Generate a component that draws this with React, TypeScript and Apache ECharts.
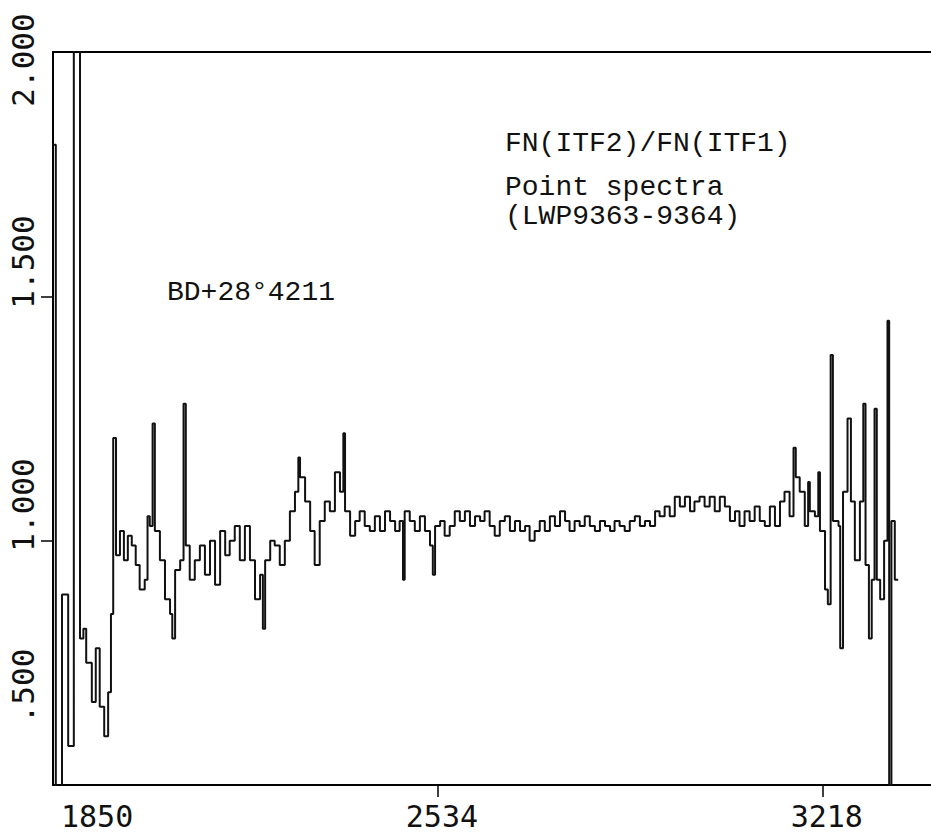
import React, { useEffect, useRef } from "react";
import * as echarts from "echarts";

// Bin start wavelengths (Angstrom)
const wavelengths = [
  1841, 1855, 1866, 1877, 1887, 1898, 1904, 1909, 1919, 1926, 1933, 1941, 1948, 1953, 1957,
  1962, 1969, 1976, 1983, 1990, 1997, 2004, 2013, 2018, 2022, 2027, 2031, 2040, 2049, 2058,
  2062, 2067, 2076, 2082, 2086, 2093, 2102, 2111, 2120, 2129, 2138, 2147, 2156, 2164, 2173,
  2182, 2191, 2200, 2209, 2218, 2223, 2227, 2236, 2244, 2253, 2262, 2271, 2280, 2286, 2289,
  2298, 2307, 2315, 2324, 2333, 2342, 2351, 2360, 2366, 2369, 2378, 2387, 2395, 2404, 2413,
  2422, 2431, 2440, 2449, 2458, 2466, 2472, 2475, 2484, 2493, 2502, 2511, 2520, 2525, 2529,
  2538, 2546, 2555, 2564, 2573, 2582, 2591, 2600, 2609, 2617, 2626, 2635, 2644, 2653, 2662,
  2671, 2680, 2689, 2697, 2706, 2715, 2724, 2733, 2742, 2751, 2760, 2768, 2777, 2786, 2795,
  2804, 2813, 2822, 2831, 2840, 2848, 2857, 2866, 2875, 2884, 2893, 2902, 2911, 2920, 2928,
  2937, 2946, 2955, 2964, 2973, 2982, 2990, 2999, 3008, 3017, 3026, 3035, 3044, 3053, 3062,
  3070, 3079, 3088, 3097, 3106, 3115, 3124, 3133, 3142, 3150, 3159, 3166, 3170, 3177, 3186,
  3192, 3195, 3204, 3210, 3213, 3222, 3227, 3232, 3236, 3246, 3249, 3254, 3262, 3268, 3275,
  3284, 3290, 3294, 3300, 3305, 3310, 3314, 3320, 3327, 3333, 3336, 3340, 3346, 3352,
];

// FN(ITF2)/FN(ITF1) ratio per bin
const ratios = [
  1.81, 0.45, 0.89, 0.58, 2.1, 0.8, 0.82, 0.75, 0.67, 0.78, 0.66, 0.6, 0.69, 0.85, 1.21,
  0.97, 1.02, 0.96, 1.01, 0.99, 0.95, 0.9, 0.92, 1.05, 1.03, 1.24, 1.02, 0.96, 0.88, 0.85,
  0.8, 0.94, 0.96, 1.28, 0.99, 0.92, 0.96, 0.99, 0.93, 1.0, 0.91, 1.02, 0.97, 1.0, 1.03,
  0.96, 1.03, 0.96, 0.88, 0.93, 0.82, 0.96, 1.0, 0.99, 0.95, 1.0, 1.06, 1.1, 1.17, 1.13,
  1.08, 1.02, 0.95, 1.04, 1.08, 1.06, 1.14, 1.1, 1.22, 1.06, 1.01, 1.04, 1.06, 1.03, 1.02,
  1.05, 1.02, 1.06, 1.04, 1.02, 1.04, 0.92, 1.06, 1.04, 1.02, 1.05, 1.02, 0.99, 0.93, 1.03,
  1.04, 1.01, 1.03, 1.06, 1.04, 1.06, 1.03, 1.05, 1.04, 1.06, 1.03, 1.01, 1.04, 1.05, 1.02,
  1.04, 1.02, 1.03, 1.0, 1.02, 1.04, 1.02, 1.05, 1.03, 1.06, 1.04, 1.02, 1.04, 1.03, 1.05,
  1.03, 1.02, 1.04, 1.03, 1.02, 1.04, 1.03, 1.02, 1.04, 1.05, 1.03, 1.04, 1.03, 1.06, 1.05,
  1.07, 1.05, 1.09, 1.07, 1.09, 1.06, 1.08, 1.09, 1.07, 1.09, 1.06, 1.09, 1.07, 1.04, 1.06,
  1.03, 1.06, 1.04, 1.07, 1.04, 1.03, 1.07, 1.03, 1.08, 1.1, 1.05, 1.19, 1.13, 1.1, 1.03,
  1.12, 1.06, 1.05, 1.14, 1.02, 0.9, 0.87, 1.38, 1.04, 1.03, 0.78, 1.1, 1.25, 1.08, 0.96,
  1.08, 1.28, 0.95, 0.8, 0.92, 1.27, 0.92, 0.88, 1.0, 1.45, 0.4, 1.04, 0.92, 0.92,
];

const xMin = 1850;
const xMax = 3421;
const xStep = 684;
const xLabelValues = [1850, 2534, 3218];
const xTickValues = [2534, 3218];
const yMin = 0.5;
const yMax = 2.0;
const yTickValues = [1.0, 1.5];
const yLabels = ["2.000", "1.500", "1.000", ".500"];
const titleLines = ["FN(ITF2)/FN(ITF1)", "Point spectra", "(LWP9363-9364)"];
const starName = "BD+28°4211";

export default function App() {
  const ref = useRef<HTMLDivElement>(null);

  useEffect(() => {
    if (!ref.current) return;
    const chart = echarts.init(ref.current, null, { renderer: "svg" });
    const data = wavelengths.map((w, i) => [w, ratios[i]]);
    const annoFont = "Liberation Mono, DejaVu Sans Mono, monospace";
    const axisFont = "DejaVu Sans Mono, monospace";
    const yLabelY = [60, 262, 505, 686];

    chart.setOption({
      animation: false,
      backgroundColor: "#fff",
      grid: {
        left: 53,
        top: 52,
        width: 884,
        height: 733,
        outerBoundsMode: "none",
        containLabel: false,
        show: true,
        borderColor: "#000",
        borderWidth: 2,
        backgroundColor: "transparent",
      },
      xAxis: {
        type: "value",
        min: xMin,
        max: xMax,
        interval: xStep,
        axisLine: { show: true, lineStyle: { color: "#000", width: 2 } },
        axisTick: {
          show: true,
          customValues: xTickValues,
          length: 12,
          lineStyle: { color: "#000", width: 1.5 },
        },
        axisLabel: {
          color: "#111",
          fontFamily: axisFont,
          fontSize: 30,
          margin: 16,
          showMaxLabel: false,
          alignMinLabel: "left",
          padding: [0, 0, 0, 8],
          formatter: (v: number) => (xLabelValues.includes(v) ? String(v) : ""),
        },
        splitLine: { show: false },
      },
      yAxis: {
        type: "value",
        min: yMin,
        max: yMax,
        interval: 0.5,
        axisLine: { show: true, lineStyle: { color: "#000", width: 2 } },
        axisTick: {
          show: true,
          customValues: yTickValues,
          length: 12,
          lineStyle: { color: "#000", width: 1.5 },
        },
        axisLabel: { show: false },
        splitLine: { show: false },
      },
      series: [
        {
          type: "line",
          step: "end",
          showSymbol: false,
          clip: true,
          lineStyle: { color: "#111", width: 2 },
          data,
        },
      ],
      graphic: [
        ...yLabels.map((t, i) => ({
          type: "text",
          x: 23,
          y: yLabelY[i],
          rotation: Math.PI / 2,
          style: {
            text: t,
            fill: "#111",
            font: `31px ${axisFont}`,
            align: "center",
            verticalAlign: "middle",
          },
        })),
        ...titleLines.map((t, i) => ({
          type: "text",
          x: 505,
          y: [143, 187, 216][i],
          style: {
            text: t,
            fill: "#111",
            font: `28px ${annoFont}`,
            align: "left",
            verticalAlign: "middle",
          },
        })),
        {
          type: "text",
          x: 167,
          y: 292,
          style: {
            text: starName,
            fill: "#111",
            font: `28px ${annoFont}`,
            align: "left",
            verticalAlign: "middle",
          },
        },
      ],
    });
    return () => chart.dispose();
  }, []);

  return (
    <div
      ref={ref}
      style={{ position: "absolute", left: 0, top: 0, width: 931, height: 837, background: "#fff" }}
    />
  );
}
